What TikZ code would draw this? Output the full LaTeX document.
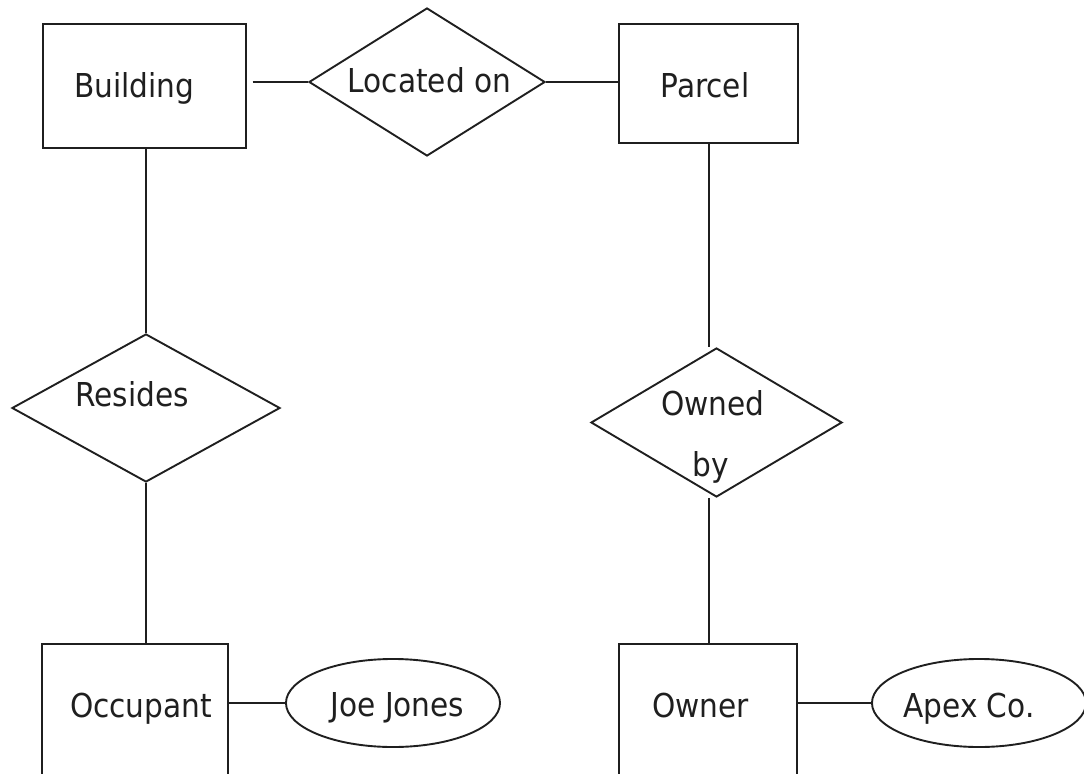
\documentclass[tikz,border=0pt]{standalone}
\usepackage{fontspec}
\setmainfont{DejaVu Sans Condensed}
\usetikzlibrary{shapes.geometric}
\tikzset{
	entity/.style={draw, rectangle, inner sep=0pt},
	relation/.style={draw, diamond, inner sep=0pt},
	attrib/.style={draw, ellipse, inner sep=0pt},
	word/.style={anchor=base, inner sep=0pt, font=\fontsize{23.4}{28}\selectfont},
}
\begin{document}
\begin{tikzpicture}[x=0.025cm, y=-0.025cm, line width=1.35pt, color=black!88]
		\clip (0,0) rectangle (1084,774);
		% entities
		\node (building)   at (144.3,86)   [entity, minimum width=5.08cm, minimum height=3.1cm] {};
		\node (parcel)     at (708.5,83.5) [entity, minimum width=4.475cm, minimum height=2.975cm] {};
		\node (occupant)   at (135,722)    [entity, minimum width=4.65cm, minimum height=3.9cm] {};
		\node (owner)      at (708,722)    [entity, minimum width=4.45cm, minimum height=3.9cm] {};
		% relations
		\node (locatedon)  at (427,82)     [relation, minimum width=5.9cm, minimum height=3.7cm] {};
		\node (resides)    at (146,408)    [relation, minimum width=6.7cm, minimum height=3.7cm] {};
		\node (ownedby)    at (716.5,422.5) [relation, minimum width=6.275cm, minimum height=3.725cm] {};
		% attributes
		\node (joejones)   at (393,703)    [attrib, minimum width=5.35cm, minimum height=2.2cm] {};
		\node (apexco)     at (979,703)    [attrib, minimum width=5.35cm, minimum height=2.2cm] {};
		%
		\node (building-t) at (134.5,97.3) [word] {Building};
		\node (located-t)  at (429.5,92.3) [word] {Located on};
		\node (parcel-t)   at (705,97.3)   [word] {Parcel};
		\node (resides-t)  at (132,406)    [word] {Resides};
		\node (owned-t)    at (713,415)    [word] {Owned};
		\node (by-t)       at (711,476.7)  [word] {by};
		\node (occupant-t) at (141,717.3)  [word] {Occupant};
		\node (joe-t)      at (397.5,716)  [word] {Joe Jones};
		\node (owner-t)    at (700.5,717)  [word] {Owner};
		\node (apex-t)     at (969,717)    [word] {Apex Co.};
		%
		\draw[shorten <=3\pgflinewidth] (locatedon.west -| building.east) -- (locatedon.west);
		\draw (locatedon.east) -- (locatedon.east -| parcel.west);
		\draw (resides.north |- building.south) -- (resides.north);
		\draw (resides.south) -- (resides.south |- occupant.north);
		% 2
		\draw (parcel.south) ++(0.5,0) coordinate (p) -- (p |- ownedby.north);
		\draw (p |- ownedby.south) -- (p |- owner.north);
		\draw (joejones.west -| occupant.east) -- (joejones.west);
		\draw (apexco.west -| owner.east) -- (apexco.west);
	\end{tikzpicture}
\end{document}
